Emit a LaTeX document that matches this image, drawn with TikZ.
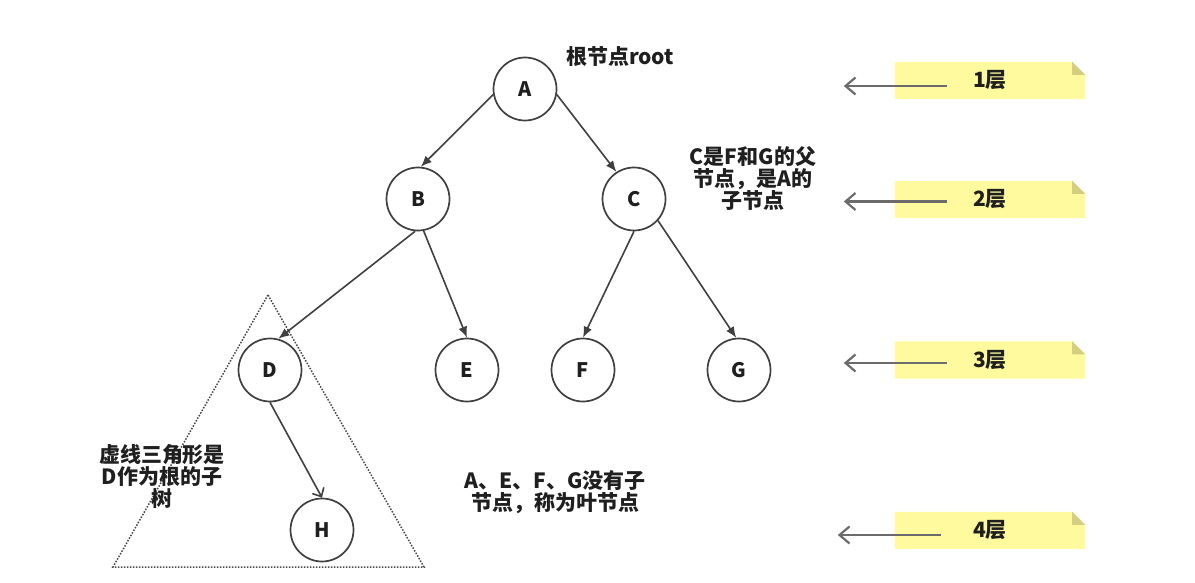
\documentclass[tikz,border=0pt]{standalone}
\usepackage{fontspec}
\setmainfont{Noto Sans CJK SC}
\usetikzlibrary{arrows.meta}
\usetikzlibrary{calc}
\usetikzlibrary{backgrounds}
\colorlet{linecol}{black!75}
\colorlet{textcol}{black!88}
\definecolor{notecol}{RGB}{255,250,158}
\definecolor{foldcol}{RGB}{212,206,128}
\tikzset{
  treenode/.style={circle,draw=linecol,line width=1.7,fill=white,minimum size=63,
                   inner sep=0,text=textcol,font=\fontsize{20}{20}\selectfont\bfseries},
  branch/.style={-{Latex[length=11pt,width=9pt]},linecol,line width=1.6},
  subbranch/.style={-{Straight Barb[length=7pt,width=13pt]},linecol,line width=1.6},
  remark/.style={align=center,inner sep=0,text=textcol,
                 font=\fontsize{21}{22}\selectfont\bfseries},
  layertext/.style={minimum width=190,minimum height=37,inner sep=0,text=textcol,
                    font=\fontsize{21}{21}\selectfont\bfseries},
  levelarrow/.style={-{Straight Barb[length=10pt,width=17pt]},black!58,line width=2.2},
  subtree/.style={black!72,line width=1.5,dash pattern=on 1.5pt off 1.5pt}}
\newcommand\layerNote[4]{
  \node[layertext] (#1) at (990,#2) {#3};
  \begin{pgfonlayer}{background}
    \fill[notecol] (#1.south west) -- (#1.north west) -- ($(#1.north east)+(-13,0)$)
      -- ($(#1.north east)+(0,13)$) -- (#1.south east) -- cycle;
    \fill[foldcol] ($(#1.north east)+(-13,0)$) -- ($(#1.north east)+(0,13)$)
      -- ($(#1.north east)+(-13,13)$) -- cycle;
  \end{pgfonlayer}
  \coordinate (#1-tail) at ($(#1.west)+(52+#4,0)$);
  \coordinate (#1-head) at ($(#1.west)+(-51+#4,0)$);
}

\begin{document}
\begin{tikzpicture}[x=1pt,y=-1pt]
  \useasboundingbox (0,0) rectangle (1195,583);

  % SUBTREE OF D
  \coordinate (T) at (268,295);  % apex
  \coordinate (TL) at (113,567); % bottom left
  \coordinate (TR) at (424,567); % bottom right
  \draw[subtree] (T) -- (TL) -- (TR) -- cycle;

  % NODES
  \node[treenode] (A) at (525,89) {A};
  \node[treenode] (B) at (418,199) {B};
  \node[treenode] (C) at (634,199) {C};
  \node[treenode] (D) at (270,370) {D};
  \node[treenode] (E) at (467,370) {E};
  \node[treenode] (F) at (583,370) {F};
  \node[treenode] (G) at (739,370) {G};
  \node[treenode] (H) at (322,530) {H};

  % EDGES
  \draw[branch] (A.190) -- (B.85);
  \draw[branch] (A.-10) -- (C.123);
  \draw[branch] (B.265) -- (D.75);
  \draw[branch] (B.280) -- (E.north);
  \draw[branch] (C.south) -- (F.north);
  \draw[branch] (C.-42) -- (G.95);
  \draw[subbranch] (D.south) -- (H.north);

  % REMARKS
  \node[remark] (rootnote) at (620,57) {根节点root};
  \node[remark] (parentnote) at (753,178) {C是F和G的父\\节点，是A的\\子节点};
  \node[remark] (subtreenote) at (162,476) {虚线三角形是\\D作为根的子\\树};
  \node[remark] (leafnote) at (555,492) {A、E、F、G没有子\\节点，称为叶节点};

  % LAYERS
  \foreach \n/\y/\dy/\dx in {1/80.5/5.5/0,2/199.5/2/0,3/360/3/0,4/530.5/4.5/-6}{
    \layerNote{L\n}{\y}{{\n}层}{\dx}
    \draw[levelarrow] ($(L\n-tail)+(0,\dy)$) -- ($(L\n-head)+(0,\dy)$);
  }

\end{tikzpicture}
\end{document}
